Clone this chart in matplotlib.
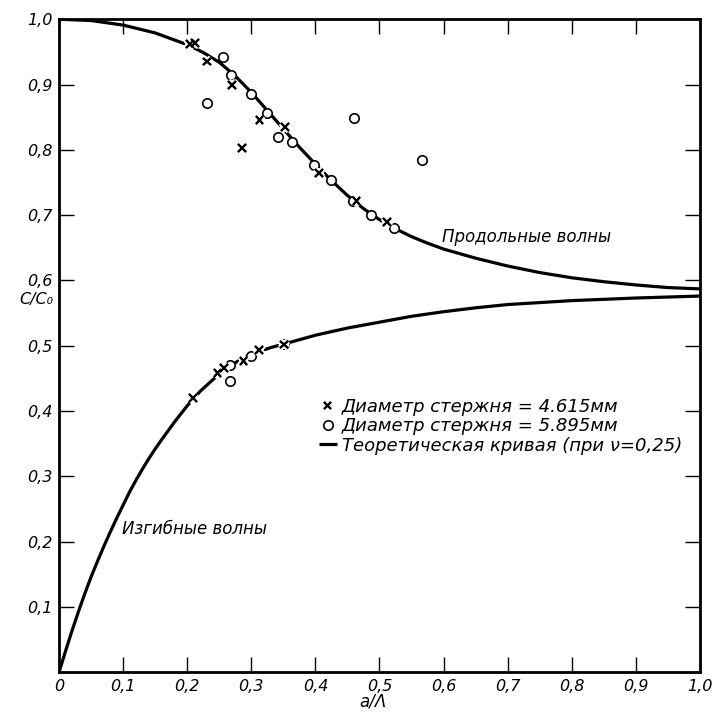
import numpy as np
import matplotlib
matplotlib.use('Agg')
import matplotlib.pyplot as plt
import matplotlib.patheffects as pe

plt.rcParams['font.family'] = ['DejaVu Sans']
plt.rcParams['font.style'] = 'italic'

# theoretical curves
long_x = [0, 0.05, 0.1, 0.15, 0.2, 0.225, 0.25, 0.275, 0.3, 0.325, 0.35, 0.375, 0.4,
          0.425, 0.45, 0.475, 0.5, 0.525, 0.55, 0.575, 0.6, 0.65, 0.7, 0.75, 0.8,
          0.85, 0.9, 0.95, 1.0]
long_y = [1.0, 0.998, 0.991, 0.979, 0.961, 0.949, 0.934, 0.913, 0.888, 0.86, 0.832,
          0.804, 0.778, 0.753, 0.73, 0.71, 0.693, 0.679, 0.667, 0.657, 0.648, 0.634,
          0.622, 0.612, 0.604, 0.598, 0.593, 0.589, 0.587]

flex_x = [0, 0.01, 0.02, 0.03, 0.04, 0.05, 0.06, 0.07, 0.08, 0.09, 0.1, 0.11, 0.12,
          0.13, 0.14, 0.15, 0.16, 0.18, 0.2, 0.22, 0.24, 0.26, 0.28, 0.3, 0.33, 0.36,
          0.4, 0.45, 0.5, 0.55, 0.6, 0.65, 0.7, 0.8, 0.9, 1.0]
flex_y = [0, 0.032, 0.063, 0.092, 0.12, 0.146, 0.17, 0.193, 0.215, 0.236, 0.256,
          0.276, 0.294, 0.311, 0.327, 0.342, 0.356, 0.383, 0.408, 0.43, 0.448, 0.464,
          0.477, 0.487, 0.497, 0.505, 0.516, 0.527, 0.536, 0.545, 0.552, 0.558,
          0.563, 0.569, 0.573, 0.576]

# rod diameter 4.615 mm (crosses)
d1_x = [0.204, 0.212, 0.231, 0.270, 0.285, 0.3125, 0.353, 0.406, 0.464, 0.512,
        0.2085, 0.247, 0.257, 0.2875, 0.3115, 0.351]
d1_y = [0.962, 0.964, 0.935, 0.899, 0.803, 0.846, 0.835, 0.764, 0.722, 0.689,
        0.420, 0.458, 0.466, 0.477, 0.493, 0.502]

# rod diameter 5.895 mm (circles)
d2_x = [0.255, 0.231, 0.268, 0.299, 0.324, 0.341, 0.363, 0.398, 0.424, 0.460,
        0.458, 0.486, 0.523, 0.567,
        0.267, 0.267, 0.2995, 0.351]
d2_y = [0.942, 0.871, 0.915, 0.886, 0.856, 0.820, 0.812, 0.776, 0.753, 0.849,
        0.721, 0.700, 0.680, 0.785,
        0.470, 0.446, 0.484, 0.502]

xticks = [0, 0.1, 0.2, 0.3, 0.4, 0.5, 0.6, 0.7, 0.8, 0.9, 1.0]
xticklabels = ['0', '0,1', '0,2', '0,3', '0,4', '0,5', '0,6', '0,7', '0,8', '0,9', '1,0']
yticks = [0, 0.1, 0.2, 0.3, 0.4, 0.5, 0.6, 0.7, 0.8, 0.9, 1.0]
yticklabels = ['', '0,1', '0,2', '0,3', '0,4', '0,5', '0,6', '0,7', '0,8', '0,9', '1,0']

fig = plt.figure(figsize=(7.12, 7.12), dpi=100)
ax = fig.add_axes([0.083, 0.056, 0.900, 0.917])

theory, = ax.plot(long_x, long_y, color='black', lw=2.3, solid_capstyle='butt', zorder=2)
ax.plot(flex_x, flex_y, color='black', lw=2.3, solid_capstyle='butt', zorder=2)

circ, = ax.plot(d2_x, d2_y, 'o', ms=6.8, mfc='white', mec='black', mew=1.2,
                ls='none', zorder=3)
cross, = ax.plot(d1_x, d1_y, 'x', ms=5.5, mec='black', mew=1.5, ls='none', zorder=4)
cross.set_path_effects([pe.withStroke(linewidth=4.5, foreground='white'), pe.Normal()])

ax.set_xlim(0, 1)
ax.set_ylim(0, 1)
ax.set_xticks(xticks)
ax.set_xticklabels(xticklabels)
ax.set_yticks(yticks)
ax.set_yticklabels(yticklabels)
ax.tick_params(direction='in', length=11, width=1.0, top=True, right=True,
               labelsize=11.5, pad=5)
for s in ax.spines.values():
    s.set_linewidth(2.0)

ax.text(0.49, -0.045, 'a/Λ', transform=ax.transAxes, ha='center', va='center', fontsize=12)
ax.text(-0.035, 0.57, 'C/C₀', transform=ax.transAxes, ha='center', va='center', fontsize=11.5)

ax.text(0.597, 0.667, 'Продольные волны', fontsize=12, va='center', ha='left')
ax.text(0.098, 0.219, 'Изгибные волны', fontsize=12, va='center', ha='left')

leg = ax.legend([cross, circ, theory],
                ['Диаметр стержня = 4.615мм', 'Диаметр стержня = 5.895мм',
                 'Теоретическая кривая (при ν=0,25)'],
                loc='upper left', bbox_to_anchor=(0.405, 0.42), frameon=False,
                fontsize=13, handlelength=1.0, handletextpad=0.3, labelspacing=0.08,
                borderpad=0, borderaxespad=0)

fig.savefig('out.png', dpi=100)
